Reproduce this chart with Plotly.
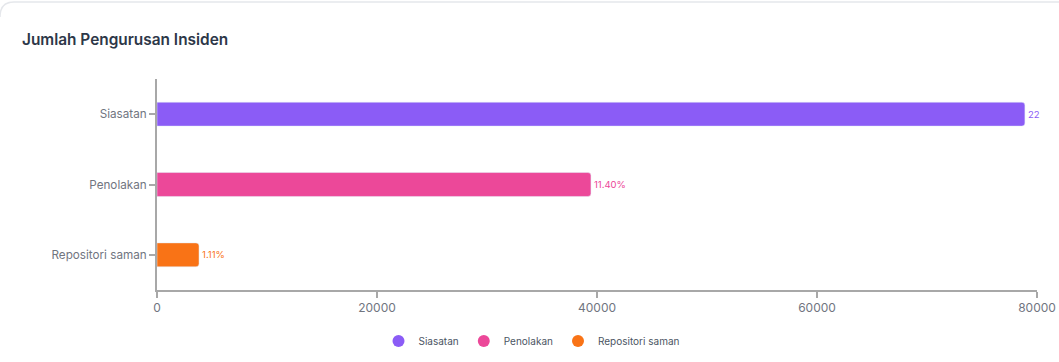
import plotly.graph_objects as go

categories = ["Siasatan", "Penolakan", "Repositori saman"]
values = [78900, 39450, 3820]
labels = ["22", "11.40%", "1.11%"]
colors = ["#8b5cf6", "#ec4899", "#f97316"]
x_ticks = [0, 20000, 40000, 60000, 80000]

fig = go.Figure()
for c, v, t, col in zip(categories, values, labels, colors):
    fig.add_trace(go.Bar(
        y=[c], x=[v], orientation="h", marker_color=col, width=0.34,
        text=[t], textposition="outside", cliponaxis=False,
        textfont=dict(color=col, size=9.5, family="Inter"),
        showlegend=False, hoverinfo="x+y",
    ))
for c, col in zip(categories, colors):
    fig.add_trace(go.Scatter(
        x=[None], y=[None], mode="markers", name=c,
        marker=dict(symbol="circle", size=12, color=col),
    ))

fig.update_layout(
    width=1059, height=362,
    margin=dict(l=157, r=22, t=79, b=72, autoexpand=False),
    paper_bgcolor="white", plot_bgcolor="white",
    barcornerradius=3,
    font=dict(family="Inter", color="#71757f", size=12),
    title=dict(text="Jumlah Pengurusan Insiden", x=22/1059, xanchor="left",
               y=1-40/362, yanchor="middle",
               font=dict(family="Inter", size=15.4, color="#2d3748", weight=600)),
    xaxis=dict(range=[0, 80000], tickvals=x_ticks, tickformat="d",
               showgrid=False, zeroline=False,
               showline=True, linecolor="#a8a8a8", linewidth=2,
               ticks="outside", ticklen=6, tickcolor="#a8a8a8", tickwidth=2,
               tickfont=dict(size=12, color="#71757f")),
    yaxis=dict(categoryorder="array", categoryarray=categories[::-1],
               range=[-0.5, 2.5], showgrid=False, zeroline=False,
               showline=True, linecolor="#a8a8a8", linewidth=2,
               ticks="outside", ticklen=6, tickcolor="#a8a8a8", tickwidth=2,
               tickfont=dict(size=11.7, color="#71757f")),
    legend=dict(orientation="h", x=(532-157)/880, xanchor="center",
                y=(290-341)/211, yanchor="middle",
                font=dict(size=10, color="#4b5563", family="Inter"),
                itemsizing="trace"),
)

# card border (rounded top-left corner)
fig.add_shape(type="path", xref="paper", yref="paper",
              path=f"M {-157/880},{1+62/211} Q {-157/880},{1+77/211} {-143/880},{1+77/211} L {1+22/880},{1+77/211}",
              line=dict(color="#e5e7eb", width=1.5))

fig.write_html("out.html", config={"displayModeBar": False},
               post_script="document.body.style.margin='0';")
